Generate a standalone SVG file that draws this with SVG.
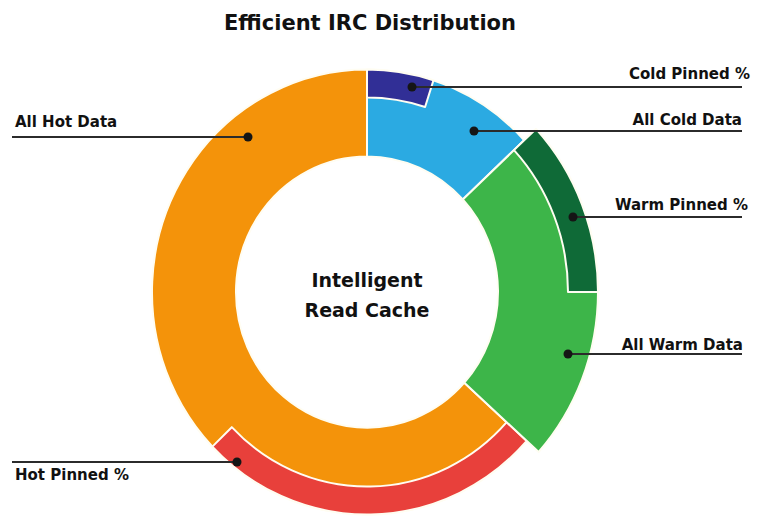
<svg xmlns="http://www.w3.org/2000/svg" width="762" height="516" viewBox="0 0 762 516">
<style>
.seg{stroke:#fffdf2;stroke-width:2;vector-effect:non-scaling-stroke;stroke-linejoin:round}
.lbl{font-family:"DejaVu Sans","Liberation Sans",sans-serif;font-weight:bold;font-size:15px;fill:#111}
.ctr{font-family:"DejaVu Sans","Liberation Sans",sans-serif;font-weight:bold;font-size:19px;fill:#111;text-anchor:middle}
.ttl{font-family:"DejaVu Sans","Liberation Sans",sans-serif;font-weight:bold;font-size:21px;fill:#111;text-anchor:middle}
.ln{stroke:#2b2b2b;stroke-width:2;fill:none}
.dot{fill:#151515}
</style>
<rect width="762" height="516" fill="#ffffff"/>
<text class="ttl" x="370" y="30">Efficient IRC Distribution</text>
<g transform="translate(367,292) scale(1,1.035)">
<g id="all-hot-data"><path class="seg" fill="#F4930A" d="M159.77,143.86 A215,215 0 1 1 0,-215 L0,-131 A131,131 0 1 0 97.35,87.65 Z"/></g>
<g id="hot-pinned"><path class="seg" fill="#E8403B" d="M159.77,143.86 A215,215 0 0 1 -154.65,149.36 L-135.23,130.60 A188,188 0 0 0 139.70,125.79 Z"/></g>
<g id="all-cold-data"><path class="seg" fill="#2BAAE2" d="M0,-215 A215,215 0 0 1 157.25,-146.63 L95.81,-89.34 A131,131 0 0 0 0,-131 Z"/></g>
<g id="cold-pinned"><path class="seg" fill="#312F96" d="M0,-215 A215,215 0 0 1 66.44,-204.49 L58.09,-178.81 A188,188 0 0 0 0,-188 Z"/></g>
<g id="all-warm-data"><path class="seg" fill="#3DB549" d="M168.95,-157.54 A231,231 0 0 1 171.66,154.56 L97.35,87.65 A131,131 0 0 0 95.81,-89.34 Z"/></g>
<g id="warm-pinned"><path class="seg" fill="#0F6A37" d="M168.95,-157.54 A231,231 0 0 1 231,0 L201,0 A201,201 0 0 0 147.01,-137.08 Z"/></g>
</g>
<g id="center-label">
<text class="ctr" x="367" y="287">Intelligent</text>
<text class="ctr" x="367" y="317">Read Cache</text>
</g>
<g id="labels">
<text class="lbl" x="15" y="127">All Hot Data</text>
<text class="lbl" x="15" y="480">Hot Pinned %</text>
<text class="lbl" x="750" y="79" text-anchor="end">Cold Pinned %</text>
<text class="lbl" x="742" y="125" text-anchor="end">All Cold Data</text>
<text class="lbl" x="748" y="210" text-anchor="end">Warm Pinned %</text>
<text class="lbl" x="743" y="350" text-anchor="end">All Warm Data</text>
</g>
<g id="connectors">
<line class="ln" x1="12" y1="137" x2="248" y2="137"/><circle class="dot" cx="248" cy="137" r="4.5"/>
<line class="ln" x1="12" y1="462" x2="237" y2="462"/><circle class="dot" cx="237" cy="462" r="4.5"/>
<line class="ln" x1="412" y1="87" x2="742" y2="87"/><circle class="dot" cx="412" cy="87" r="4.5"/>
<line class="ln" x1="474" y1="131" x2="742" y2="131"/><circle class="dot" cx="474" cy="131" r="4.5"/>
<line class="ln" x1="573" y1="217" x2="742" y2="217"/><circle class="dot" cx="573" cy="217" r="4.5"/>
<line class="ln" x1="568" y1="354" x2="742" y2="354"/><circle class="dot" cx="568" cy="354" r="4.5"/>
</g>
</svg>
